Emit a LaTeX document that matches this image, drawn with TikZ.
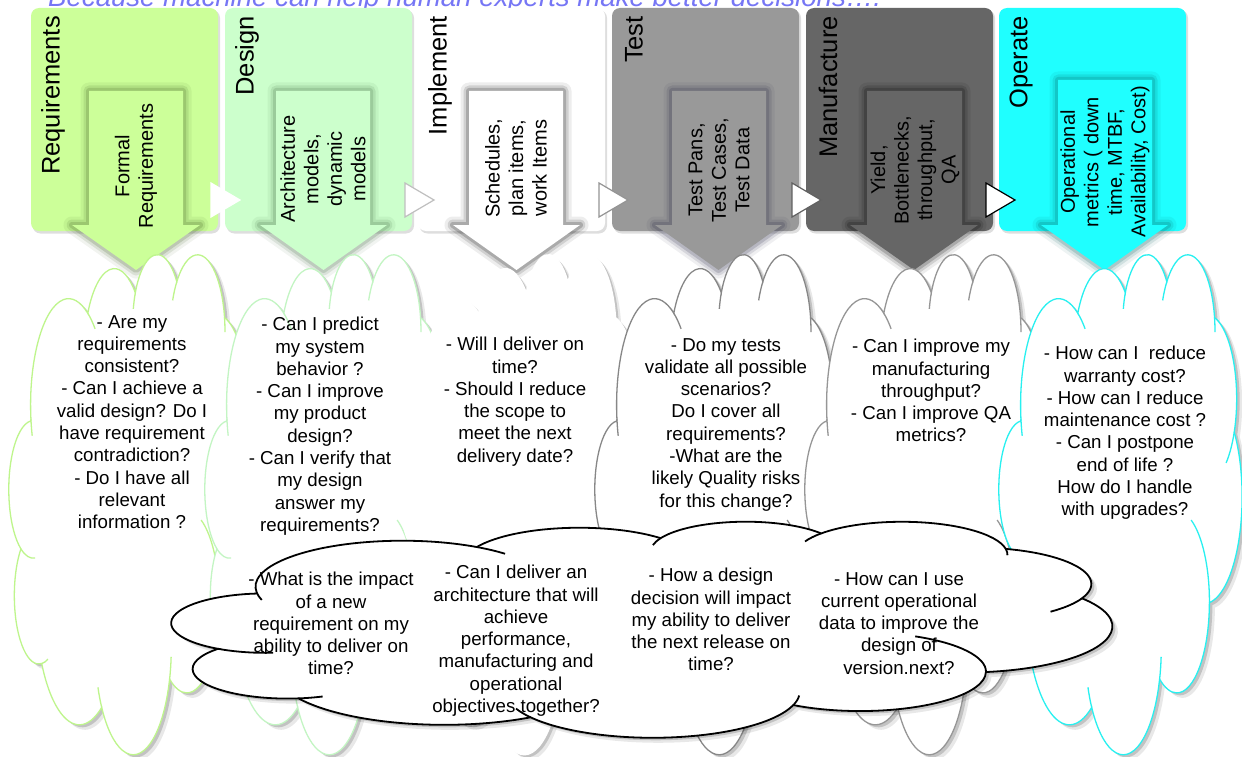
\documentclass[tikz,border=0pt]{standalone}
\usepackage{fontspec}
\setmainfont{Liberation Sans}
\definecolor{reqc}{HTML}{CCFF99}
\definecolor{desc}{HTML}{CCFFCC}
\definecolor{tstc}{HTML}{999999}
\definecolor{manc}{HTML}{666666}
\definecolor{opc}{HTML}{1FFFFF}
\definecolor{titc}{RGB}{118,118,245}
\definecolor{reqo}{RGB}{190,245,140}
\definecolor{deso}{RGB}{195,245,195}
\definecolor{tsto}{RGB}{135,135,135}
\definecolor{mano}{RGB}{150,150,150}
\definecolor{opo}{RGB}{40,240,240}
\definecolor{reqg}{RGB}{60,90,30}
\definecolor{desg}{RGB}{60,100,60}
\definecolor{tstg}{RGB}{40,40,70}
\definecolor{opg}{RGB}{0,90,90}
\def\cloudpath{(9.028,33.264)
 arc[start angle=172.26, delta angle=128.13, x radius=15.632, y radius=21.273]
 arc[start angle=-152.03, delta angle=106.57, x radius=12.345, y radius=16.822]
 arc[start angle=-153.49, delta angle=116.18, x radius=10.104, y radius=13.762]
 arc[start angle=-139.70, delta angle=129.49, x radius=11.243, y radius=15.266]
 arc[start angle=-74.78, delta angle=98.01, x radius=12.345, y radius=16.836]
 arc[start angle=-37.49, delta angle=119.34, x radius=15.683, y radius=21.343]
 arc[start angle=0.46, delta angle=121.57, x radius=13.391, y radius=18.211]
 arc[start angle=16.87, delta angle=129.33, x radius=15.630, y radius=21.331]
 arc[start angle=59.05, delta angle=91.07, x radius=17.870, y radius=24.405]
 arc[start angle=83.29, delta angle=139.70, x radius=10.093, y radius=13.699]
 arc[start angle=120.25, delta angle=143.88, x radius=10.058, y radius=13.762]
 -- cycle}
\def\cloudinner{(10.75,61.00) arc[start angle=85.55, delta angle=34.70, x radius=10.058, y radius=13.762]
 (16.03,81.24) arc[start angle=68.24, delta angle=15.05, x radius=10.093, y radius=13.699]
 (38.15,90.89) arc[start angle=146.20, delta angle=12.27, x radius=15.630, y radius=21.331]
 (66.72,80.79) arc[start angle=4.74, delta angle=12.13, x radius=15.630, y radius=21.331]
 (79.07,53.41) arc[start angle=-64.03, delta angle=64.49, x radius=13.391, y radius=18.211]
 (96.81,35.80) arc[start angle=23.23, delta angle=26.41, x radius=12.345, y radius=16.836]
 (88.70,12.92) arc[start angle=-10.21, delta angle=11.03, x radius=11.243, y radius=15.266]
 (67.34,9.48) arc[start angle=-156.28, delta angle=16.58, x radius=11.243, y radius=15.266]
 (51.16,11.16) arc[start angle=-167.73, delta angle=14.24, x radius=10.104, y radius=13.762]
 (32.43,12.05) arc[start angle=-59.61, delta angle=13.86, x radius=15.632, y radius=21.273]
 (9.55,36.55) arc[start angle=163.19, delta angle=9.07, x radius=15.632, y radius=21.273]}
\newcommand\mycloud[6]{%
 \begin{scope}[shift={(#1+5.5,#2+5)}, x=1pt, y=1pt, xscale={#3/100}, yscale={-#4/100}]
  \fill[black, fill opacity=0.09] \cloudpath;
 \end{scope}
 \begin{scope}[shift={(#1+3,#2+2.5)}, x=1pt, y=1pt, xscale={#3/100}, yscale={-#4/100}]
  \fill[black, fill opacity=0.16] \cloudpath;
 \end{scope}
 \begin{scope}[shift={(#1,#2)}, x=1pt, y=1pt, xscale={#3/100}, yscale={-#4/100}]
  \path[fill=white, draw=#5, line width=#6] \cloudpath;
  \draw[#5, line width=#6] \cloudinner;
 \end{scope}}
\newcommand\downarr[7]{%
 \def\arrp{(#1,#3) -- (#2,#3) -- (#2,225) -- (#5,225) -- ({(#4+#5)/2},270) -- (#4,225) -- (#1,225) -- cycle}
 \foreach \w/\o in {17/0.07, 11/0.12, 6/0.18} {\draw[#7, line width=\w pt, opacity=\o, line join=round] \arrp;}
 \fill[#6] \arrp;}
\tikzset{
 stagebox/.style={rectangle, rounded corners=8pt, minimum width=187pt, minimum height=223pt, inner sep=0pt, draw=none},
 boxtitle/.style={rotate=90, anchor=east, inner sep=0pt, font=\fontsize{25.5}{30}\selectfont},
 arrtext/.style={rotate=90, align=center, inner sep=0pt, font=\fontsize{20}{23.5}\selectfont},
 cloudtext/.style={align=center, anchor=north, inner sep=0pt, font=\fontsize{18.7}{22.3}\selectfont},
 chevron/.style={fill=white, line width=1.2pt, line join=miter}
}
\begin{document}
\begin{tikzpicture}[x=1pt,y=-1pt]
\useasboundingbox (0,0) rectangle (1242,757);
\fill[white] (0,0) rectangle (1242,757);
\node[anchor=base west, text=titc, inner sep=0pt, font=\itshape\fontsize{27.6}{30}\selectfont] (title) at (48,7) {Because machine can help human experts make better decisions….};
% stage boxes
\foreach \bx/\bc/\nm in {31/reqc/breq, 225/desc/bdes, 418/white/bimp, 612/tstc/btst, 806/manc/bman, 999/opc/bop} {
  \fill[black, opacity=.13, rounded corners=8pt] (\bx+1.5,10) rectangle (\bx+189,233.5);
  \node[stagebox, fill=\bc] (\nm) at (\bx+93.5,119.5) {};
}
% chevrons between boxes
\foreach \tx/\tc in {211/white, 405/black!25, 599/black!42, 792/black!62, 986/black} {
  \draw[chevron, draw=\tc] (\tx,183) -- (\tx+29,200) -- (\tx,217) -- cycle;
}
% block arrows
\downarr{89}{183}{91}{72}{200}{reqc}{reqg}
\downarr{276}{370}{91}{260}{387}{desc}{desg}
\downarr{469}{563}{91}{453}{580}{white}{black}
\downarr{672}{766}{91}{655}{782}{tstc}{tstg}
\downarr{867}{962}{91}{850}{978}{manc}{black}
\downarr{1058}{1152}{80}{1041}{1168}{opc}{opg}
% box titles
\node[boxtitle] (treq) at (53,16) {Requirements};
\node[boxtitle] (tdes) at (247,16) {Design};
\node[boxtitle] (timp) at (440,16) {Implement};
\node[boxtitle] (ttst) at (634,16) {Test};
\node[boxtitle] (tman) at (828,16) {Manufacture};
\node[boxtitle] (top) at (1021,16) {Operate};
% arrow texts
\node[arrtext] (areq) at (136,166) {Formal\\Requirements};
\node[arrtext] (ades) at (323,169) {Architecture\\models,\\dynamic\\models};
\node[arrtext] (aimp) at (516,168) {Schedules,\\plan items,\\work Items};
\node[arrtext] (atst) at (719,170) {Test Pans,\\Test Cases,\\Test Data};
\node[arrtext] (aman) at (915,170) {Yield,\\Bottlenecks,\\throughput,\\QA};
\node[arrtext] (aop) at (1105,162) {Operational\\metrics ( down\\time, MTBF,\\Availability, Cost)};
% clouds per stage
\mycloud{9}{253}{243}{500}{reqo}{1.3pt}
\node[cloudtext] (creq) at (132,315) {- Are my\\requirements\\consistent?\\- Can I achieve a\\valid design? Do I\\have requirement\\contradiction?\\- Do I have all\\relevant\\information ?};
\mycloud{205}{253}{243}{500}{deso}{1.3pt}
\node[cloudtext] (cdes) at (320,317) {- Can I predict\\my system\\behavior ?\\- Can I improve\\my product\\design?\\- Can I verify that\\my design\\answer my\\requirements?};
\mycloud{400}{253}{243}{500}{white}{1.3pt}
\node[cloudtext] (cimp) at (515,337) {- Will I deliver on\\time?\\- Should I reduce\\the scope to\\meet the next\\delivery date?};
\mycloud{595}{253}{243}{500}{tsto}{1.3pt}
\node[cloudtext] (ctst) at (726,338) {- Do my tests\\validate all possible\\scenarios?\\Do I cover all\\requirements?\\-What are the\\likely Quality risks\\for this change?};
\mycloud{805}{253}{243}{500}{mano}{1.3pt}
\node[cloudtext] (cman) at (931,339) {- Can I improve my\\manufacturing\\throughput?\\- Can I improve QA\\metrics?};
\mycloud{999}{253}{243}{500}{opo}{1.3pt}
\node[cloudtext] (cop) at (1125,346) {- How can I\ \ reduce\\warranty cost?\\- How can I reduce\\maintenance cost ?\\- Can I postpone\\end of life ?\\How do I handle\\with upgrades?};
% bottom cloud
\mycloud{172}{521}{940}{216}{black}{1.8pt}
\node[cloudtext] (q1) at (331,572) {- What is the impact\\of a new\\requirement on my\\ability to deliver on\\time?};
\node[cloudtext] (q2) at (516,565) {- Can I deliver an\\architecture that will\\achieve\\performance,\\manufacturing and\\operational\\objectives together?};
\node[cloudtext] (q3) at (711,568) {- How a design\\decision will impact\\my ability to deliver\\the next release on\\time?};
\node[cloudtext] (q4) at (899,572) {- How can I use\\current operational\\data to improve the\\design of\\version.next?};
\end{tikzpicture}
\end{document}
